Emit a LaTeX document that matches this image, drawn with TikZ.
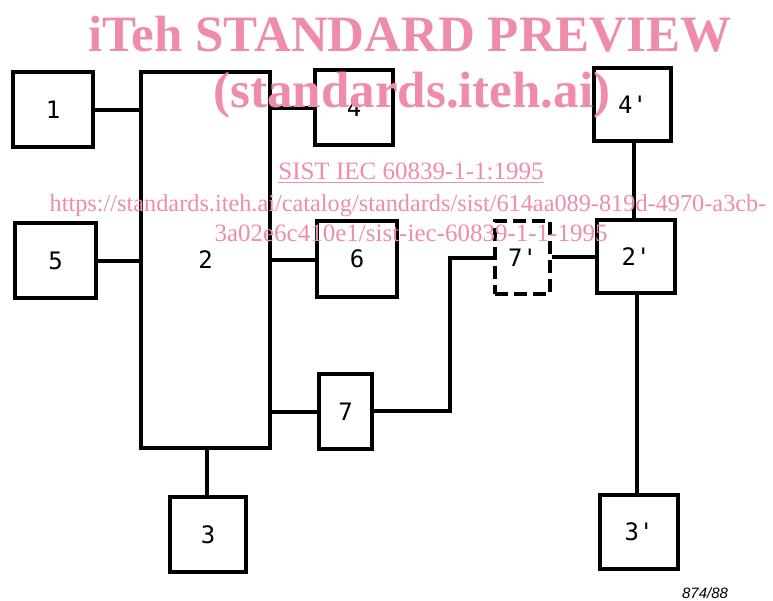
\documentclass[tikz,border=0pt]{standalone}
\usepackage{fontspec}
\setmainfont{Liberation Serif}
\newfontfamily\lblfont{DejaVu Sans Mono}
\newfontfamily\notefont{Liberation Sans}
\definecolor{wmpink}{RGB}{239,140,170}
\tikzset{
  blk/.style={draw=black, line width=3.2pt, rectangle, inner sep=0pt, font=\lblfont\fontsize{24}{24}\selectfont},
  dblk/.style={blk, dash pattern=on 13pt off 6pt},
  wire/.style={draw=black, line width=3.2pt},
  wm/.style={text=wmpink, anchor=base, inner sep=0pt}
}
\begin{document}
\begin{tikzpicture}[x=1pt,y=-1pt]
\useasboundingbox (0,0) rectangle (773,601);
% boxes
\node[blk, minimum width=80pt, minimum height=75pt] (b1) at (53,109.5) {1};
\node[blk, minimum width=129pt, minimum height=376pt] (b2) at (205.5,260) {2};
\node[blk, minimum width=78pt, minimum height=75pt] (b4) at (354,107.5) {4};
\node[blk, minimum width=81pt, minimum height=75pt] (b5) at (55.5,260.5) {5};
\node[blk, minimum width=80pt, minimum height=76pt] (b6) at (357,259) {6};
\node[blk, minimum width=53pt, minimum height=75pt] (b7) at (345.5,411.5) {7};
\node[blk, minimum width=76pt, minimum height=75pt] (b3) at (208,534.5) {3};
\node[dblk, minimum width=55pt, minimum height=73pt] (b7p) at (522.5,257.5) {7'};
\node[blk, minimum width=78pt, minimum height=73pt] (b2p) at (636,256.5) {2'};
\node[blk, minimum width=77pt, minimum height=73pt] (b4p) at (632.5,104.5) {4'};
\node[blk, minimum width=78pt, minimum height=74pt] (b3p) at (639,532) {3'};
% connectors
\draw[wire] (b1.east |- 0,110) -- (b2.west |- 0,110);
\draw[wire] (b2.east |- 0,108) -- (b4.west |- 0,108);
\draw[wire] (b5.east |- 0,261) -- (b2.west |- 0,261);
\draw[wire] (b2.east |- 0,260) -- (b6.west |- 0,260);
\draw[wire] (b2.east |- 0,412) -- (b7.west |- 0,412);
\coordinate (c1) at (450,411);
\coordinate (c2) at (450,258);
\draw[wire] (b7.east |- 0,411) -- (c1) -- (c2) -- (b7p.west |- c2);
\draw[wire] (b7p.east |- 0,257) -- (b2p.west |- 0,257);
\draw[wire] (b2.south -| 207,0) -- (b3.north -| 207,0);
\draw[wire] (b4p.south -| 634,0) -- (b2p.north -| 634,0);
\draw[wire] (b2p.south -| 637,0) -- (b3p.north -| 637,0);
\node[anchor=base, inner sep=0pt, font=\notefont\itshape\fontsize{15}{15}\selectfont] (note) at (705,598) {874/88};
% watermark
\node[wm, font=\bfseries\fontsize{51}{51}\selectfont] (w1) at (410,52) {iTeh STANDARD PREVIEW};
\node[wm, font=\bfseries\fontsize{51}{51}\selectfont] (w2) at (412,108) {(standards.iteh.ai)};
\node[wm, font=\fontsize{25}{25}\selectfont] (w3) at (411,180) {\underline{SIST IEC 60839-1-1:1995}};
\node[wm, font=\fontsize{24.3}{24.3}\selectfont] (w4) at (408,212) {https://standards.iteh.ai/catalog/standards/sist/614aa089-819d-4970-a3cb-};
\node[wm, font=\fontsize{25}{25}\selectfont] (w5) at (411,242) {3a02e6c410e1/sist-iec-60839-1-1-1995};
\end{tikzpicture}
\end{document}
